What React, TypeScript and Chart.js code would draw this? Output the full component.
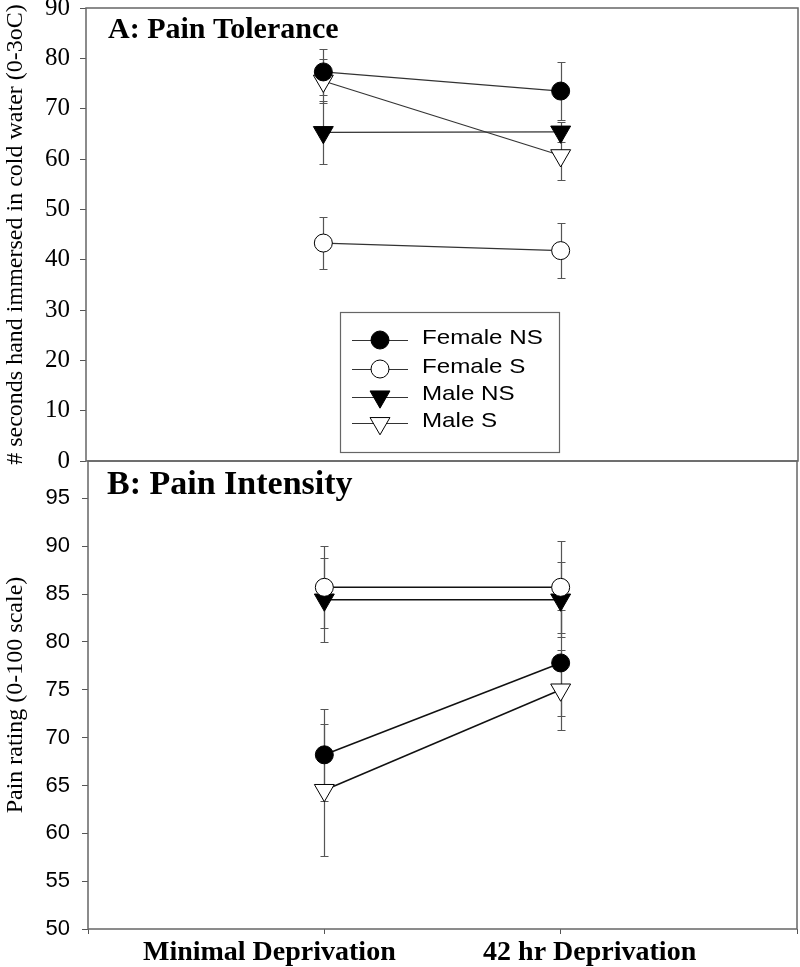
import React, { useEffect, useRef } from "react";
import { Chart, registerables } from "chart.js";

Chart.register(...registerables);

// ---------- data ----------
const seriesNames = ["Female NS", "Female S", "Male NS", "Male S"];
const conditions = ["Minimal Deprivation", "42 hr Deprivation"];
const conditionX = [1, 2];

// Panel A: pain tolerance (seconds)
const tolFemaleNS = [77.3, 73.5];
const tolFemaleS = [43.3, 41.8];
const tolMaleNS = [65.3, 65.4];
const tolMaleS = [75.5, 60.7];
const tolErrFemaleNS = [4.6, 5.7];
const tolErrFemaleS = [5.1, 5.5];
const tolErrMaleNS = [6.3, 2.0];
const tolErrMaleS = [4.4, 4.8];
const tolTicks = [0, 10, 20, 30, 40, 50, 60, 70, 80, 90];

// Panel B: pain intensity (0-100)
const intFemaleNS = [68.2, 77.8];
const intFemaleS = [85.7, 85.7];
const intMaleNS = [84.4, 84.4];
const intMaleS = [64.5, 75.0];
const intErrFemaleNS = [4.8, 5.5];
const intErrFemaleS = [4.3, 4.8];
const intErrMaleNS = [4.4, 3.9];
const intErrMaleS = [6.9, 4.2];
const intTicks = [50, 55, 60, 65, 70, 75, 80, 85, 90, 95];
const xTicks = [0, 1, 2, 3];

// ---------- styles ----------
const markerStyles = [
  { style: "circle", radius: 9, fill: "#000", rot: 0 },
  { style: "circle", radius: 9, fill: "#fff", rot: 0 },
  { style: "triangle", radius: 11.5, fill: "#000", rot: 180 },
  { style: "triangle", radius: 11.5, fill: "#fff", rot: 180 },
];

function makeDatasets(values: number[][], errors: number[][], lineColor: string, lineWidth: number) {
  return values.map((vals, si) => ({
    label: seriesNames[si],
    data: vals.map((v, i) => ({ x: conditionX[i], y: v })),
    errors: errors[si],
    borderColor: lineColor,
    borderWidth: lineWidth,
    pointStyle: markerStyles[si].style,
    pointRadius: markerStyles[si].radius,
    pointRotation: markerStyles[si].rot,
    pointBackgroundColor: markerStyles[si].fill,
    pointBorderColor: "#000",
    pointBorderWidth: 1,
    fill: false,
    tension: 0,
  }));
}

const errorBarsPlugin = {
  id: "errbars",
  beforeDatasetsDraw(chart: any) {
    const { ctx, scales } = chart;
    const x = scales.x;
    const y = scales.y;
    ctx.save();
    ctx.strokeStyle = "#555";
    ctx.lineWidth = 1.2;
    chart.data.datasets.forEach((ds: any) => {
      ds.data.forEach((p: any, i: number) => {
        const e = ds.errors[i];
        const px = Math.round(x.getPixelForValue(p.x)) + 0.5;
        const top = Math.round(y.getPixelForValue(p.y + e)) + 0.5;
        const bot = Math.round(y.getPixelForValue(p.y - e)) + 0.5;
        ctx.beginPath();
        ctx.moveTo(px, top);
        ctx.lineTo(px, bot);
        ctx.moveTo(px - 4, top);
        ctx.lineTo(px + 4, top);
        ctx.moveTo(px - 4, bot);
        ctx.lineTo(px + 4, bot);
        ctx.stroke();
      });
    });
    ctx.restore();
  },
};

const framePlugin = {
  id: "frame",
  afterDraw(chart: any) {
    const { ctx, chartArea: a } = chart;
    ctx.save();
    ctx.strokeStyle = "#666";
    ctx.lineWidth = 1.5;
    ctx.strokeRect(a.left, a.top, a.right - a.left, a.bottom - a.top);
    ctx.restore();
  },
};

function panelTitlePlugin(text: string, size: number, dx: number, dy: number) {
  return {
    id: "ptitle",
    afterDraw(chart: any) {
      const { ctx, chartArea: a } = chart;
      ctx.save();
      ctx.font = `bold ${size}px "Liberation Serif", "Times New Roman", serif`;
      ctx.fillStyle = "#000";
      ctx.textAlign = "left";
      ctx.textBaseline = "alphabetic";
      ctx.fillText(text, a.left + dx, a.top + dy);
      ctx.restore();
    },
  };
}

function drawMarker(ctx: CanvasRenderingContext2D, si: number, cx: number, cy: number) {
  const m = markerStyles[si];
  ctx.beginPath();
  if (m.style === "circle") {
    ctx.arc(cx, cy, m.radius, 0, Math.PI * 2);
  } else {
    const r = m.radius;
    const hw = r * Math.sin(Math.PI / 3);
    ctx.moveTo(cx, cy + r);
    ctx.lineTo(cx - hw, cy - r / 2);
    ctx.lineTo(cx + hw, cy - r / 2);
    ctx.closePath();
  }
  ctx.fillStyle = m.fill;
  ctx.fill();
  ctx.strokeStyle = "#000";
  ctx.lineWidth = 1;
  ctx.stroke();
}

const legendPlugin = {
  id: "customLegend",
  afterDraw(chart: any) {
    const { ctx } = chart;
    ctx.save();
    ctx.strokeStyle = "#666";
    ctx.lineWidth = 1.2;
    ctx.strokeRect(340.5, 312.5, 219, 140);
    const rowY = [340, 369, 396.7, 423.3];
    const textY = [344.3, 372.7, 400, 426.7];
    seriesNames.forEach((name, si) => {
      ctx.strokeStyle = "#333";
      ctx.lineWidth = 1;
      ctx.beginPath();
      ctx.moveTo(352, Math.round(rowY[si]) + 0.5);
      ctx.lineTo(408, Math.round(rowY[si]) + 0.5);
      ctx.stroke();
      drawMarker(ctx, si, 380, rowY[si]);
      ctx.save();
      ctx.translate(422, textY[si]);
      ctx.scale(1.15, 1);
      ctx.font = `21px "Liberation Sans", Arial, sans-serif`;
      ctx.fillStyle = "#000";
      ctx.textAlign = "left";
      ctx.textBaseline = "alphabetic";
      ctx.fillText(name, 0, 0);
      ctx.restore();
    });
    ctx.restore();
  },
};

const xLabelsPlugin = {
  id: "xlabels",
  afterDraw(chart: any) {
    const { ctx, scales, chartArea: a } = chart;
    const shifts = [-55, 29];
    ctx.save();
    ctx.font = `bold 28px "Liberation Serif", "Times New Roman", serif`;
    ctx.fillStyle = "#000";
    ctx.textAlign = "center";
    ctx.textBaseline = "alphabetic";
    conditions.forEach((c, i) => {
      ctx.fillText(c, scales.x.getPixelForValue(conditionX[i]) + shifts[i], a.bottom + 31);
    });
    ctx.restore();
  },
};

function zeroPad(s: any) {
  s.paddingTop = 0;
  s.paddingBottom = 0;
  s.paddingLeft = 0;
  s.paddingRight = 0;
}

export default function App() {
  const refA = useRef<HTMLCanvasElement>(null);
  const refB = useRef<HTMLCanvasElement>(null);

  useEffect(() => {
    const serif = `"Liberation Serif", "Times New Roman", serif`;
    const sans = `"Liberation Sans", Arial, sans-serif`;

    const chartA = new Chart(refA.current as HTMLCanvasElement, {
      type: "line",
      data: {
        datasets: makeDatasets(
          [tolFemaleNS, tolFemaleS, tolMaleNS, tolMaleS],
          [tolErrFemaleNS, tolErrFemaleS, tolErrMaleNS, tolErrMaleS],
          "#333",
          1.2
        ) as any,
      },
      options: {
        animation: false,
        responsive: false,
        devicePixelRatio: 1,
        layout: { padding: { left: 0, right: 2, top: 8, bottom: 19 }, autoPadding: false } as any,
        plugins: { legend: { display: false }, tooltip: { enabled: false } },
        scales: {
          x: { type: "linear", min: 0, max: 3, display: false, afterFit: zeroPad },
          y: {
            type: "linear",
            min: 0,
            max: 90,
            afterBuildTicks: (s: any) => {
              s.ticks = tolTicks.map((v) => ({ value: v }));
            },
            afterFit: (s: any) => {
              s.width = 86;
              zeroPad(s);
            },
            grid: { drawOnChartArea: false, drawTicks: true, tickLength: 6, color: "#555" },
            border: { display: false },
            ticks: { font: { family: serif, size: 25 }, color: "#000", padding: 10 },
            title: {
              display: true,
              text: "# seconds hand immersed in cold water (0-3oC)",
              font: { family: serif, size: 24 },
              color: "#000",
              padding: { top: 1, bottom: 0 },
            },
          },
        },
      } as any,
      plugins: [errorBarsPlugin, framePlugin, panelTitlePlugin("A: Pain Tolerance", 30, 22, 30), legendPlugin],
    });

    const chartB = new Chart(refB.current as HTMLCanvasElement, {
      type: "line",
      data: {
        datasets: makeDatasets(
          [intFemaleNS, intFemaleS, intMaleNS, intMaleS],
          [intErrFemaleNS, intErrFemaleS, intErrMaleNS, intErrMaleS],
          "#111",
          1.5
        ) as any,
      },
      options: {
        animation: false,
        responsive: false,
        devicePixelRatio: 1,
        layout: { padding: { left: 0, right: 3, top: 21, bottom: 0 }, autoPadding: false } as any,
        plugins: { legend: { display: false }, tooltip: { enabled: false } },
        scales: {
          x: {
            type: "linear",
            min: 0,
            max: 3,
            afterBuildTicks: (s: any) => {
              s.ticks = xTicks.map((v) => ({ value: v }));
            },
            afterFit: (s: any) => {
              s.height = 38;
              zeroPad(s);
            },
            grid: { drawOnChartArea: false, drawTicks: true, tickLength: 5, color: "#555" },
            border: { display: false },
            ticks: { display: false },
          },
          y: {
            type: "linear",
            min: 50,
            max: 98.9,
            afterBuildTicks: (s: any) => {
              s.ticks = intTicks.map((v) => ({ value: v }));
            },
            afterFit: (s: any) => {
              s.width = 88;
              zeroPad(s);
            },
            grid: { drawOnChartArea: false, drawTicks: true, tickLength: 6, color: "#555" },
            border: { display: false },
            ticks: { font: { family: sans, size: 22 }, color: "#000", padding: 12 },
            title: {
              display: true,
              text: "Pain rating (0-100 scale)",
              font: { family: serif, size: 24 },
              color: "#000",
              padding: { top: 1, bottom: 0 },
            },
          },
        },
      } as any,
      plugins: [errorBarsPlugin, framePlugin, panelTitlePlugin("B: Pain Intensity", 34, 19, 33), xLabelsPlugin],
    });

    return () => {
      chartA.destroy();
      chartB.destroy();
    };
  }, []);

  return (
    <div style={{ position: "absolute", left: 0, top: 0, width: 800, height: 967, background: "#fff" }}>
      <canvas ref={refA} width={800} height={480} style={{ position: "absolute", left: 0, top: 0, width: 800, height: 480 }} />
      <canvas ref={refB} width={800} height={527} style={{ position: "absolute", left: 0, top: 440, width: 800, height: 527 }} />
    </div>
  );
}
